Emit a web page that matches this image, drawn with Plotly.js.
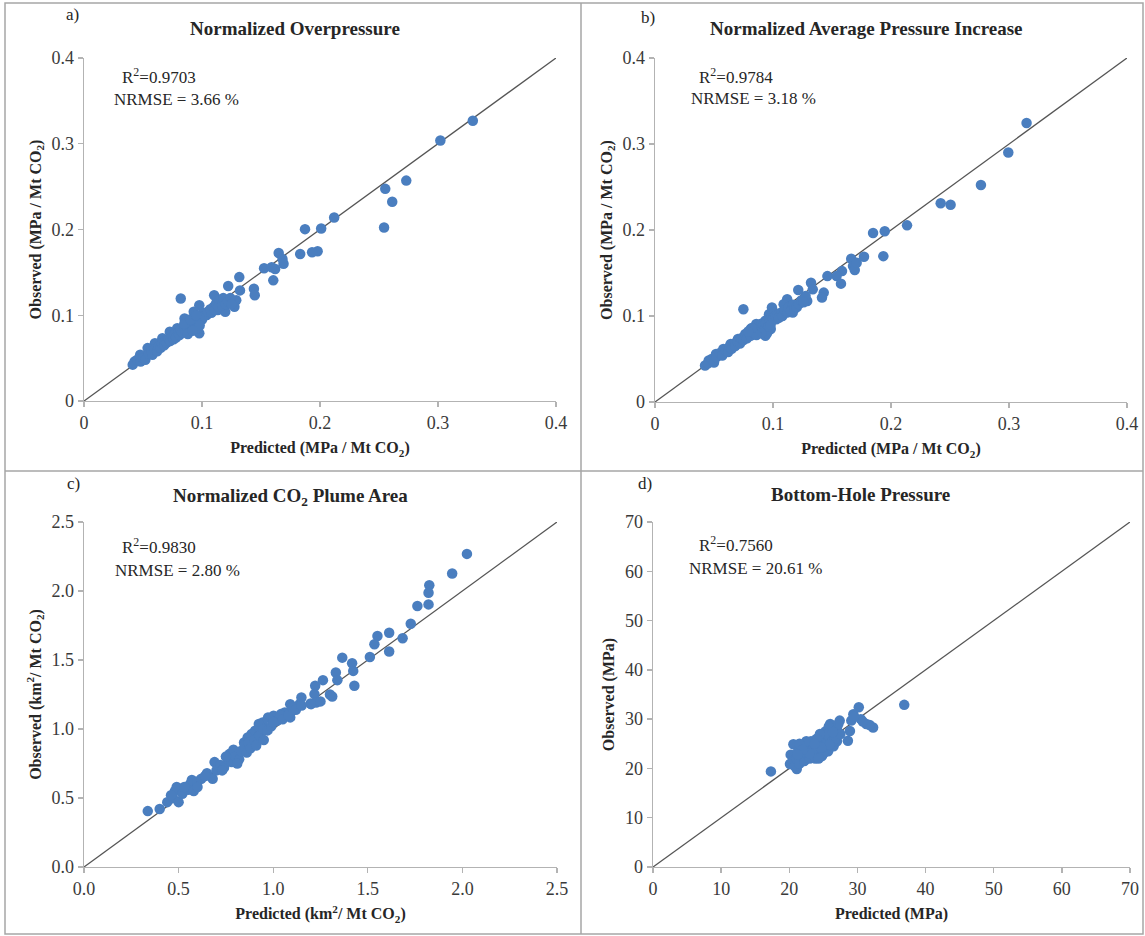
<!DOCTYPE html>
<html>
<head>
<meta charset="utf-8">
<script src="https://cdn.plot.ly/plotly-3.0.1.min.js"></script>
<style>html,body{margin:0;padding:0;background:#fff;}#chart{width:1145px;height:936px;}</style>
</head>
<body>
<div id="chart"></div>
<script>
// ---- Panel a: Normalized Overpressure ----
const aPred = [0.3295,0.302,0.2731,0.2553,0.2612,0.2543,0.212,0.201,0.1873,0.198,0.1933,0.1832,0.165,0.1682,0.1691,0.162,0.1526,0.159,0.1604,0.144,0.1447,0.1316,0.1222,0.1322,0.129,0.1275,0.1103,0.1165,0.1134,0.082,0.0977,0.093,0.104,0.1197,0.0852,0.0977,0.079,0.0727,0.0664,0.0601,0.0539,0.0476,0.0429,0.0413,
0.045,0.048,0.05,0.052,0.055,0.057,0.058,0.06,0.062,0.063,0.065,0.066,0.068,0.069,0.07,0.072,0.073,0.075,0.076,0.077,0.078,0.08,0.081,0.082,0.083,0.085,0.086,0.087,0.088,0.089,0.09,0.091,0.092,0.093,0.094,0.095,0.096,0.097,0.098,0.099,0.1,0.101,0.102,0.105,0.107,0.108,0.11,0.111,0.112,0.114,0.115,0.117,0.118,0.12,0.122,0.124,0.125,0.085,0.09,0.095,0.098,0.088,0.092];
const aObs  = [0.3268,0.3037,0.257,0.2474,0.2324,0.2023,0.2139,0.2012,0.2004,0.1746,0.1734,0.1715,0.1726,0.1657,0.16,0.154,0.1549,0.156,0.1407,0.131,0.1233,0.1445,0.1341,0.129,0.1175,0.1098,0.1233,0.1156,0.106,0.1195,0.1118,0.104,0.1002,0.104,0.0963,0.079,0.0848,0.0809,0.0732,0.0674,0.0617,0.054,0.0462,0.0424,
0.048,0.046,0.05,0.048,0.055,0.058,0.054,0.06,0.058,0.063,0.062,0.067,0.065,0.07,0.068,0.072,0.07,0.075,0.072,0.078,0.074,0.08,0.077,0.083,0.08,0.085,0.082,0.088,0.084,0.09,0.086,0.092,0.088,0.094,0.09,0.096,0.085,0.092,0.098,0.1,0.095,0.103,0.099,0.104,0.107,0.103,0.11,0.106,0.114,0.11,0.118,0.112,0.12,0.113,0.116,0.12,0.113,0.09,0.095,0.1,0.088,0.078,0.082];

// ---- Panel b: Normalized Average Pressure Increase ----
const bPred = [0.3149,0.2994,0.2762,0.2421,0.2505,0.2136,0.1947,0.1848,0.1935,0.1771,0.1663,0.1678,0.1693,0.1709,0.1585,0.1539,0.1576,0.1461,0.143,0.1415,0.1322,0.1337,0.129,0.1276,0.1214,0.112,0.1152,0.109,0.1167,0.0749,0.0991,0.0966,0.1028,0.0935,0.0981,0.0935,0.0858,0.0811,0.0765,0.0703,0.0641,0.0579,0.0517,0.0455,0.0424,
0.045,0.048,0.05,0.052,0.055,0.057,0.06,0.062,0.063,0.065,0.067,0.068,0.07,0.072,0.073,0.075,0.077,0.078,0.08,0.081,0.083,0.084,0.085,0.087,0.088,0.089,0.09,0.091,0.092,0.093,0.094,0.095,0.096,0.097,0.098,0.099,0.1,0.101,0.102,0.104,0.105,0.107,0.108,0.11,0.112,0.113,0.115,0.117,0.118,0.12,0.122,0.124,0.126,0.09,0.086,0.082,0.079];
const bObs  = [0.3245,0.2902,0.2524,0.2312,0.2293,0.2054,0.1985,0.1965,0.1696,0.1688,0.1665,0.158,0.1534,0.1619,0.1522,0.1464,0.1376,0.1464,0.1272,0.1214,0.1387,0.131,0.1175,0.1233,0.1302,0.1195,0.1118,0.1137,0.104,0.1079,0.1098,0.1021,0.0963,0.0944,0.0848,0.0771,0.0906,0.0848,0.079,0.0732,0.0674,0.0617,0.0559,0.0482,0.0424,
0.045,0.05,0.046,0.052,0.057,0.054,0.06,0.058,0.064,0.062,0.068,0.065,0.07,0.068,0.074,0.072,0.077,0.074,0.08,0.077,0.083,0.08,0.087,0.084,0.089,0.085,0.091,0.087,0.09,0.085,0.092,0.08,0.088,0.095,0.09,0.1,0.097,0.104,0.1,0.101,0.098,0.104,0.1,0.107,0.104,0.11,0.106,0.113,0.108,0.11,0.114,0.118,0.116,0.08,0.078,0.086,0.082];

// ---- Panel c: Normalized CO2 Plume Area ----
const cPred = [2.024,1.946,1.825,1.821,1.821,1.762,1.727,1.684,1.613,1.551,1.535,1.613,1.511,1.365,1.417,1.423,1.429,1.331,1.339,1.312,1.263,1.222,1.218,1.227,1.198,1.149,1.139,1.09,1.1,1.09,1.061,1.041,1.002,0.973,0.944,0.924,0.904,0.885,0.865,0.924,0.846,
0.337,0.40,0.44,0.47,0.48,0.49,0.5,0.52,0.55,0.56,0.57,0.58,0.6,0.62,0.65,0.68,0.69,0.7,0.72,0.74,0.76,0.77,0.78,0.79,0.8,0.82,0.83,0.85,0.86,0.87,0.88,0.9,0.91,0.93,0.95,0.97,0.99,1.02,1.04,1.05,1.08,1.1,1.12,1.15,1.2,1.25,1.3,0.53,0.46,0.6,0.64,0.73,0.75,0.81,0.95,1.0];
const cObs  = [2.269,2.127,2.042,1.987,1.903,1.891,1.763,1.657,1.698,1.674,1.614,1.561,1.522,1.517,1.477,1.421,1.313,1.409,1.354,1.236,1.354,1.313,1.253,1.192,1.185,1.228,1.18,1.18,1.132,1.084,1.12,1.108,1.096,1.084,1.048,1.036,0.987,0.963,0.939,0.951,0.903,
0.405,0.42,0.47,0.5,0.55,0.58,0.47,0.53,0.56,0.6,0.63,0.55,0.62,0.64,0.68,0.64,0.76,0.7,0.74,0.72,0.78,0.82,0.76,0.85,0.8,0.78,0.84,0.88,0.83,0.9,0.86,0.92,0.88,0.95,1.0,0.99,1.02,1.06,1.1,1.07,1.1,1.16,1.14,1.17,1.18,1.2,1.25,0.58,0.52,0.58,0.66,0.7,0.8,0.75,0.92,1.05];

// ---- Panel d: Bottom-Hole Pressure ----
const dPred = [36.87,17.3,32.3,31.3,30.5,30.2,29.4,29.1,28.9,28.6,27.4,27.0,20.6,20.1,21.1,29.5,31.8,30.8,
20.2,20.5,20.8,21.0,21.3,21.5,21.8,22.0,22.2,22.5,22.8,23.0,23.2,23.5,23.8,24.0,24.2,24.5,24.8,25.0,25.2,25.5,25.3,25.7,26.0,26.2,26.5,26.8,27.0,27.2,26.0,25.8,25.5,24.5,24.0,23.5,22.5,21.5,26.3,26.7,25.0,24.3,23.0,22.0,27.5,25.9,26.4,24.7,23.7,21.2];
const dObs  = [32.9,19.4,28.3,29.0,30.0,32.4,31.0,29.7,27.6,25.6,29.7,28.3,24.9,20.9,19.9,30.5,28.8,29.5,
22.8,21.5,20.5,22.0,23.5,21.0,24.0,22.5,21.5,23.0,24.5,22.0,25.5,23.5,22.0,24.5,23.0,25.5,22.5,24.0,26.5,25.0,27.5,23.5,26.0,28.0,24.5,27.0,25.5,29.0,29.0,28.5,27.0,27.0,26.0,24.0,25.5,25.0,25.5,26.0,23.0,22.0,23.0,23.8,27.0,24.8,27.4,24.2,25.0,22.8];

const titles = ['Normalized Overpressure','Normalized Average Pressure Increase','Normalized CO<sub>2</sub> Plume Area','Bottom-Hole Pressure'];
const letters = ['a)','b)','c)','d)'];
const r2Labels = ['R<sup>2</sup>=0.9703','R<sup>2</sup>=0.9784','R<sup>2</sup>=0.9830','R<sup>2</sup>=0.7560'];
const nrmseLabels = ['NRMSE = 3.66 %','NRMSE = 3.18 %','NRMSE = 2.80 %','NRMSE = 20.61 %'];
const xTitles = ['Predicted (MPa / Mt CO<sub>2</sub>)','Predicted (MPa / Mt CO<sub>2</sub>)','Predicted (km<sup>2</sup>/ Mt CO<sub>2</sub>)','Predicted (MPa)'];
const yTitles = ['Observed (MPa / Mt CO<sub>2</sub>)','Observed (MPa / Mt CO<sub>2</sub>)','Observed (km<sup>2</sup>/ Mt CO<sub>2</sub>)','Observed (MPa)'];
const axisMax = [0.4,0.4,2.5,70];
const axisStep = [0.1,0.1,0.5,10];
const tickFmt = ['','', '.1f',''];

const W = 1145, H = 936;
// pixel boxes for each plot area: [left, right, top, bottom]
const boxes = [[84,556,58,401],[655,1127,58,402],[84,557,522,867],[653,1130,522,867]];
const titlePos = [[295,28],[866,28],[290,497],[860,494]];
const letterPos = [[72,15],[648,17],[73,483],[645,483]];
const r2Pos = [[120,76],[697,76],[120,546],[697,544]];
const nrPos = [[112,100],[689,99],[113,570],[687,568]];

const serif = 'Liberation Serif';
const blue = '#4a7ebf';
const xs = [aPred,bPred,cPred,dPred], ys = [aObs,bObs,cObs,dObs];
const data = [], layout = {
  width: W, height: H, margin:{l:0,r:0,t:0,b:0}, showlegend:false,
  paper_bgcolor:'#fff', plot_bgcolor:'#fff', annotations:[], shapes:[],
  font:{family:serif, color:'#262626'}
};
const px = (x)=>x/W, py = (y)=>1-y/H;
for (let i=0;i<4;i++){
  const n = i===0?'':String(i+1);
  const xa = 'x'+n, ya = 'y'+n;
  data.push({type:'scatter', mode:'lines', x:[0,axisMax[i]], y:[0,axisMax[i]], xaxis:xa, yaxis:ya,
    line:{color:'#555555', width:1.3}, hoverinfo:'skip'});
  data.push({type:'scatter', mode:'markers', x:xs[i], y:ys[i], xaxis:xa, yaxis:ya,
    marker:{color:blue, size:10.5, line:{width:0}}, cliponaxis:false});
  const b = boxes[i];
  const common = {showgrid:false, zeroline:false, showline:true, linecolor:'#b3b3b3', linewidth:1.3,
    ticks:'outside', ticklen:5, tickcolor:'#b3b3b3', tickwidth:1.3,
    tickfont:{family:serif, size:18, color:'#3a3a3a'}, range:[0,axisMax[i]], dtick:axisStep[i], tick0:0,
    tickformat:tickFmt[i], fixedrange:true};
  layout['xaxis'+n] = Object.assign({}, common, {domain:[px(b[0]),px(b[1])], anchor:ya,
    title:{text:'<b>'+xTitles[i]+'</b>', font:{family:serif,size:16,color:'#262626'}, standoff:10}});
  layout['yaxis'+n] = Object.assign({}, common, {domain:[py(b[3]),py(b[2])], anchor:xa,
    title:{text:'<b>'+yTitles[i]+'</b>', font:{family:serif,size:16,color:'#262626'}, standoff:6}});
  layout.annotations.push({text:'<b>'+titles[i]+'</b>', x:px(titlePos[i][0]), y:py(titlePos[i][1]), xref:'paper', yref:'paper',
    showarrow:false, xanchor:'center', yanchor:'middle', font:{family:serif,size:19,color:'#262626'}});
  layout.annotations.push({text:letters[i], x:px(letterPos[i][0]), y:py(letterPos[i][1]), xref:'paper', yref:'paper',
    showarrow:false, xanchor:'center', yanchor:'middle', font:{family:serif,size:17,color:'#262626'}});
  layout.annotations.push({text:r2Labels[i], x:px(r2Pos[i][0]), y:py(r2Pos[i][1]), xref:'paper', yref:'paper',
    showarrow:false, xanchor:'left', yanchor:'middle', font:{family:serif,size:17,color:'#262626'}});
  layout.annotations.push({text:nrmseLabels[i], x:px(nrPos[i][0]), y:py(nrPos[i][1]), xref:'paper', yref:'paper',
    showarrow:false, xanchor:'left', yanchor:'middle', font:{family:serif,size:17,color:'#262626'}});
}
// panel frame lines
const fr = {color:'#a6a6a6', width:1.5};
layout.shapes.push({type:'rect', xref:'paper', yref:'paper', x0:px(5), x1:px(1143), y0:py(934), y1:py(3), line:fr});
layout.shapes.push({type:'line', xref:'paper', yref:'paper', x0:px(581), x1:px(581), y0:py(934), y1:py(3), line:fr});
layout.shapes.push({type:'line', xref:'paper', yref:'paper', x0:px(5), x1:px(1143), y0:py(471), y1:py(471), line:fr});

Plotly.newPlot('chart', data, layout, {displayModeBar:false, staticPlot:true});
</script>
</body>
</html>
